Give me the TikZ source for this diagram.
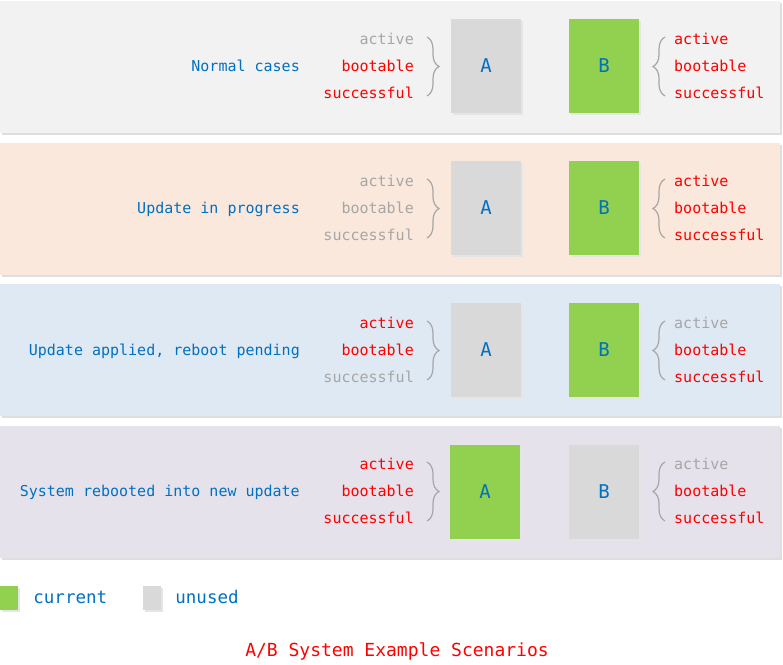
\documentclass[tikz,border=0pt]{standalone}
\usepackage{fontspec}
\setmonofont{DejaVu Sans Mono}
\usepackage{tikz}
\usetikzlibrary{positioning,shadows,decorations.pathreplacing}
\definecolor{txtblue}{HTML}{0070C0}
\definecolor{flagred}{HTML}{FF0000}
\definecolor{flaggray}{HTML}{A6A6A6}
\definecolor{slotgreen}{HTML}{92D050}
\definecolor{slotgray}{HTML}{D9D9D9}
\definecolor{bggray}{HTML}{F2F2F2}
\definecolor{bgpeach}{HTML}{FBE8DC}
\definecolor{bgblue}{HTML}{DFE9F3}
\definecolor{bglilac}{HTML}{E6E2EC}
\tikzstyle{panel} = [inner sep=0pt, minimum width=780pt, minimum height=132pt,
    general shadow={fill=black!13, shadow xshift=2pt, shadow yshift=-2pt}]
\tikzstyle{slot} = [inner sep=0pt, minimum width=70pt, minimum height=94pt,
    text=txtblue, font=\ttfamily\fontsize{19}{19}\selectfont,
    general shadow={fill=black!10, shadow xshift=2pt, shadow yshift=-2pt}]
\tikzstyle{flag} = [inner sep=0pt, text height=11pt, text depth=0pt,
    font=\ttfamily\fontsize{15}{15}\selectfont]
\tikzstyle{flagon} = [flag, text=flagred]
\tikzstyle{flagoff} = [flag, text=flaggray]
\tikzstyle{case} = [flag, anchor=east, text=txtblue]
\tikzstyle{brace} = [decorate, decoration={brace, amplitude=12pt},
    draw=flaggray, line width=1.2pt]

\begin{document}
\begin{tikzpicture}[x=1pt, y=-1pt]
  \useasboundingbox (0,0) rectangle (783,664);
  % Place panels
  \node [panel, fill=bggray] (p1) at (390,67) {};
  \node [panel, fill=bgpeach] (p2) at (390,208.5) {};
  \node [panel, fill=bgblue] (p3) at (390,350) {};
  \node [panel, fill=bglilac] (p4) at (390,492) {};

  % Normal cases
  \node [case] (c1) at (300,66) {Normal cases};
  \node [slot, fill=slotgray] (A1) at (486,66) {A};
  \node [slot, fill=slotgreen] (B1) at (604,66) {B};
  \node [flagoff, anchor=east] (la1) at (414,39) {active};
  \node [flagon, anchor=east] (lb1) at (414,66) {bootable};
  \node [flagon, anchor=east] (ls1) at (414,93) {successful};
  \node [flagon, anchor=west] (ra1) at (674,39) {active};
  \node [flagon, anchor=west] (rb1) at (674,66) {bootable};
  \node [flagon, anchor=west] (rs1) at (674,93) {successful};
  \draw [brace] ([xshift=13pt,yshift=2pt]la1.east) -- ([xshift=13pt,yshift=-3pt]ls1.east);
  \draw [brace] ([xshift=-9pt,yshift=-3pt]rs1.west) -- ([xshift=-9pt,yshift=2pt]ra1.west);

  % Update in progress
  \node [case] (c2) at (300,208) {Update in progress};
  \node [slot, fill=slotgray] (A2) at (486,208) {A};
  \node [slot, fill=slotgreen] (B2) at (604,208) {B};
  \node [flagoff, anchor=east] (la2) at (414,181) {active};
  \node [flagoff, anchor=east] (lb2) at (414,208) {bootable};
  \node [flagoff, anchor=east] (ls2) at (414,235) {successful};
  \node [flagon, anchor=west] (ra2) at (674,181) {active};
  \node [flagon, anchor=west] (rb2) at (674,208) {bootable};
  \node [flagon, anchor=west] (rs2) at (674,235) {successful};
  \draw [brace] ([xshift=13pt,yshift=2pt]la2.east) -- ([xshift=13pt,yshift=-3pt]ls2.east);
  \draw [brace] ([xshift=-9pt,yshift=-3pt]rs2.west) -- ([xshift=-9pt,yshift=2pt]ra2.west);

  % Update applied, reboot pending
  \node [case] (c3) at (300,350) {Update applied, reboot pending};
  \node [slot, fill=slotgray] (A3) at (486,350) {A};
  \node [slot, fill=slotgreen] (B3) at (604,350) {B};
  \node [flagon, anchor=east] (la3) at (414,323) {active};
  \node [flagon, anchor=east] (lb3) at (414,350) {bootable};
  \node [flagoff, anchor=east] (ls3) at (414,377) {successful};
  \node [flagoff, anchor=west] (ra3) at (674,323) {active};
  \node [flagon, anchor=west] (rb3) at (674,350) {bootable};
  \node [flagon, anchor=west] (rs3) at (674,377) {successful};
  \draw [brace] ([xshift=13pt,yshift=2pt]la3.east) -- ([xshift=13pt,yshift=-3pt]ls3.east);
  \draw [brace] ([xshift=-9pt,yshift=-3pt]rs3.west) -- ([xshift=-9pt,yshift=2pt]ra3.west);

  % System rebooted into new update
  \node [case] (c4) at (300,491) {System rebooted into new update};
  \node [slot, fill=slotgreen] (A4) at (485,492) {A};
  \node [slot, fill=slotgray] (B4) at (604,492) {B};
  \node [flagon, anchor=east] (la4) at (414,464) {active};
  \node [flagon, anchor=east] (lb4) at (414,491) {bootable};
  \node [flagon, anchor=east] (ls4) at (414,518) {successful};
  \node [flagoff, anchor=west] (ra4) at (674,464) {active};
  \node [flagon, anchor=west] (rb4) at (674,491) {bootable};
  \node [flagon, anchor=west] (rs4) at (674,518) {successful};
  \draw [brace] ([xshift=13pt,yshift=2pt]la4.east) -- ([xshift=13pt,yshift=-3pt]ls4.east);
  \draw [brace] ([xshift=-9pt,yshift=-3pt]rs4.west) -- ([xshift=-9pt,yshift=2pt]ra4.west);

  % Legend
  \node [slot, fill=slotgreen, minimum width=18pt, minimum height=24pt] (kcur) at (9,598) {};
  \node [flag, anchor=west, text=txtblue, font=\ttfamily\fontsize{17.5}{17.5}\selectfont,
    right=15pt of kcur] (lcur) {current};
  \node [slot, fill=slotgray, minimum width=18pt, minimum height=24pt] (kunu) at (152,598) {};
  \node [flag, anchor=west, text=txtblue, font=\ttfamily\fontsize{17.5}{17.5}\selectfont,
    right=14pt of kunu] (lunu) {unused};

  % Caption
  \node [flag, text=flagred, font=\ttfamily\fontsize{18}{18}\selectfont] (title) at (397,651)
    {A/B System Example Scenarios};
\end{tikzpicture}
\end{document}
